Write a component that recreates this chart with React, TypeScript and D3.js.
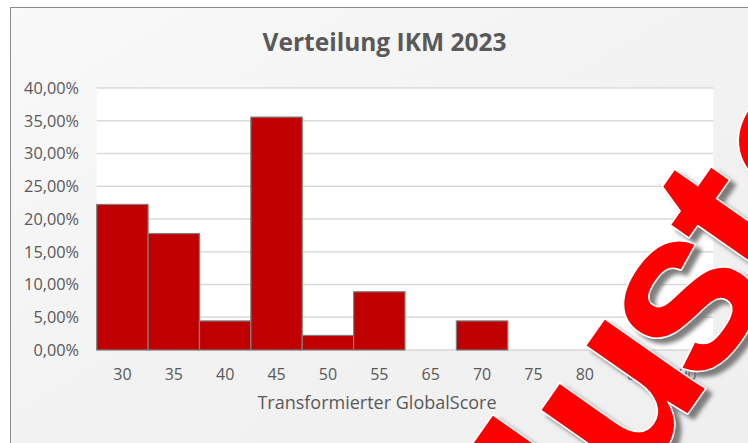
import React from "react";
import * as d3 from "d3";

const categories = ["30", "35", "40", "45", "50", "55", "65", "70", "75", "80", "85", "90"];
const shares = [0.2222, 0.1778, 0.0444, 0.3556, 0.0222, 0.0889, 0, 0.0444, 0, 0, 0, 0];
const yTicks = [0, 0.05, 0.1, 0.15, 0.2, 0.25, 0.3, 0.35, 0.4];
const title = "Verteilung IKM 2023";
const xTitle = "Transformierter GlobalScore";
const watermark = "Muster";

const W = 748;
const H = 443;
const plot = { left: 96.7, right: 713.3, top: 88, bottom: 350 };

const de = d3.formatLocale({ decimal: ",", thousands: ".", grouping: [3], currency: ["", "€"] });
const fmt = de.format(".2%");

export default function App() {
  const x = d3.scaleBand<string>().domain(categories).range([plot.left, plot.right]).padding(0);
  const y = d3.scaleLinear().domain([0, 0.4]).range([plot.bottom, plot.top]);
  const font = "'Open Sans', sans-serif";
  const textCol = "#595959";
  return (
    <svg width={W} height={H} style={{ position: "absolute", left: 0, top: 0, display: "block" }}>
      <defs>
        <linearGradient id="bg" x1="0" y1="0" x2="1" y2="1">
          <stop offset="0" stopColor="#f9f9f9" />
          <stop offset="0.5" stopColor="#f2f2f2" />
          <stop offset="1" stopColor="#efefef" />
        </linearGradient>
        <filter id="shadow" x="-20%" y="-20%" width="140%" height="140%">
          <feDropShadow dx="6" dy="5" stdDeviation="2" floodColor="#6f6f6f" floodOpacity="0.9" />
        </filter>
      </defs>
      <rect x={0} y={0} width={W} height={H} fill="#ffffff" />
      <rect x={10.5} y={7.5} width={W + 20} height={H + 20} fill="url(#bg)" stroke="#8c8c8c" strokeWidth={1} />
      <rect x={plot.left} y={plot.top} width={plot.right - plot.left} height={plot.bottom - plot.top} fill="#ffffff" />
      {yTicks.map((t) => (
        <g key={t}>
          <line x1={plot.left} x2={plot.right} y1={y(t)} y2={y(t)} stroke="#d9d9d9" strokeWidth={1.3} />
          <text x={79} y={y(t)} dy="0.36em" textAnchor="end" fontFamily={font} fontSize={16.3} fill={textCol}>
            {fmt(t)}
          </text>
        </g>
      ))}
      {categories.map((c, i) =>
        shares[i] > 0 ? (
          <rect
            key={c}
            x={x(c)}
            y={y(shares[i])}
            width={x.bandwidth()}
            height={y(0) - y(shares[i])}
            fill="#c00000"
            stroke="#7f7f7f"
            strokeWidth={1.2}
          />
        ) : null
      )}
      {categories.map((c) => (
        <text key={c} x={(x(c) as number) + x.bandwidth() / 2} y={380} textAnchor="middle" fontFamily={font} fontSize={16} fill={textCol}>
          {c}
        </text>
      ))}
      <text x={377} y={409} textAnchor="middle" fontFamily={font} fontSize={18} fill={textCol}>
        {xTitle}
      </text>
      <text x={384.5} y={51} textAnchor="middle" fontFamily={font} fontWeight="bold" fontSize={24.5} fill={textCol}>
        {title}
      </text>
      <g filter="url(#shadow)">
        <text
          transform="translate(697,400) rotate(-55)"
          x="-306 -111.5 10 126 205 333"
          y={0}
          fontFamily="'Liberation Sans', Arial, sans-serif"
          fontWeight="bold"
          fontSize={230}
          fill="#ff0000"
          stroke="#ffffff"
          strokeWidth={3}
          strokeLinejoin="round"
          paintOrder="stroke"
        >
          {watermark}
        </text>
      </g>
    </svg>
  );
}
